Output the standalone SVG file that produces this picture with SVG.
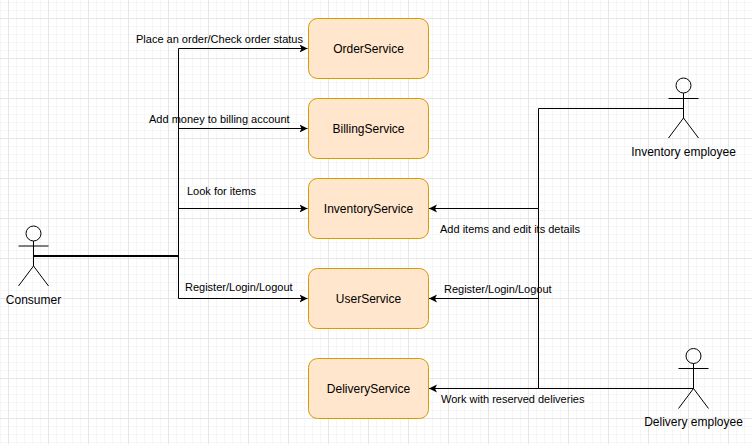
<svg xmlns="http://www.w3.org/2000/svg" width="752" height="444" viewBox="0 0 752 444">
<style>
text{font-family:"Liberation Sans",Arial,sans-serif;font-size:11px;fill:#000}
.node{font-size:12px;text-anchor:middle}
.actor{font-size:12px;text-anchor:middle}
.box{fill:#ffe6cc;stroke:#d79b00;stroke-width:1}
.fig{fill:none;stroke:#000;stroke-width:1}
.c{fill:none;stroke:#000;stroke-width:1}
</style>
<defs>
<pattern id="minor" width="8" height="8" x="0" y="2" patternUnits="userSpaceOnUse"><path d="M0.5 0V8M0 0.5H8" fill="none" stroke="#f6f6f6" stroke-width="1"/></pattern>
<pattern id="major" width="40" height="40" x="8" y="18" patternUnits="userSpaceOnUse"><path d="M0.5 0V40M0 0.5H40" fill="none" stroke="#e6e6e6" stroke-width="1"/></pattern>
<marker id="arrow" markerUnits="userSpaceOnUse" markerWidth="10" markerHeight="10" refX="8" refY="4" orient="auto" viewBox="0 0 10 8"><path d="M0 0L8 4L0 8L2 4Z" fill="#000"/></marker>
</defs>
<rect width="752" height="444" fill="#fff"/>
<rect width="752" height="444" fill="url(#minor)"/>
<rect width="752" height="444" fill="url(#major)"/>
<g id="connectors">
<path class="c" d="M33.5 256.500H178.500V48.500H307.500" marker-end="url(#arrow)"/>
<path class="c" d="M33.5 256.500H178.500V128.500H307.500" marker-end="url(#arrow)"/>
<path class="c" d="M33.5 256.500H178.500V208.500H307.500" marker-end="url(#arrow)"/>
<path class="c" d="M33.5 256.500H178.500V298.500H307.500" marker-end="url(#arrow)"/>
<path class="c" d="M33.5 256H178.500" stroke-width="2" style="stroke-width:2"/>
<path class="c" d="M683.500 108.500H538.500V208.500H429" marker-end="url(#arrow)"/>
<path class="c" d="M693.500 388.500H538.500V298.500H429" marker-end="url(#arrow)"/>
<path class="c" d="M538.500 388.500V208.500"/>
<path class="c" d="M693.500 388.500H429" marker-end="url(#arrow)"/>
</g>
<g id="labels">
<text x="136" y="43">Place an order/Check order status</text>
<text x="149" y="123">Add money to billing account</text>
<text x="187" y="195">Look for items</text>
<text x="185" y="291">Register/Login/Logout</text>
<text x="440" y="233">Add items and edit its details</text>
<text x="444" y="293">Register/Login/Logout</text>
<text x="441" y="403">Work with reserved deliveries</text>
</g>
<g id="OrderService"><rect class="box" x="308.500" y="18.500" width="120" height="60" rx="9"/><text class="node" x="368.500" y="53">OrderService</text></g>
<g id="BillingService"><rect class="box" x="308.500" y="98.500" width="120" height="60" rx="9"/><text class="node" x="368.500" y="133">BillingService</text></g>
<g id="InventoryService"><rect class="box" x="308.500" y="178.500" width="120" height="60" rx="9"/><text class="node" x="368.500" y="213">InventoryService</text></g>
<g id="UserService"><rect class="box" x="308.500" y="268.500" width="120" height="60" rx="9"/><text class="node" x="368.500" y="303">UserService</text></g>
<g id="DeliveryService"><rect class="box" x="308.500" y="358.500" width="120" height="60" rx="9"/><text class="node" x="368.500" y="393">DeliveryService</text></g>
<g id="Consumer"><circle class="fig" cx="33.500" cy="233.500" r="7.500"/><path class="fig" d="M33.500 241V266M18.500 246H48.500M33.500 266L18.500 286M33.500 266L48.500 286"/><text class="actor" x="33.500" y="304">Consumer</text></g>
<g id="InventoryEmployee"><circle class="fig" cx="683.500" cy="85.500" r="7.500"/><path class="fig" d="M683.500 93V118M668.500 98.500H698.500M683.500 118L668.500 138M683.500 118L698.500 138"/><text class="actor" x="683.500" y="156">Inventory employee</text></g>
<g id="DeliveryEmployee"><circle class="fig" cx="693.500" cy="356" r="7.500"/><path class="fig" d="M693.500 363.500V388.500M678.500 368.500H708.500M693.500 388.500L678.500 408.500M693.500 388.500L708.500 408.500"/><text class="actor" x="693.500" y="426">Delivery employee</text></g>
</svg>
